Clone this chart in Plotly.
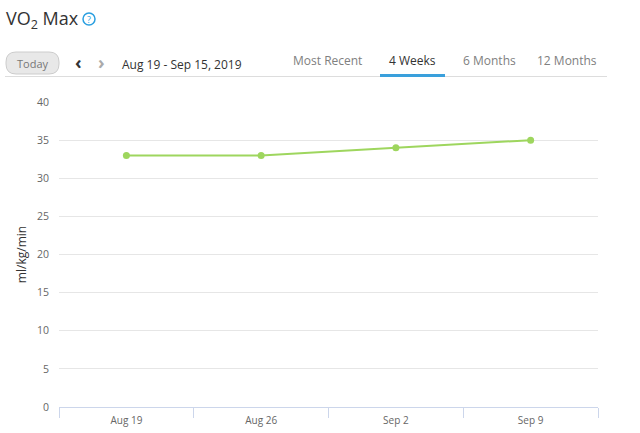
import plotly.graph_objects as go

categories = ["Aug 19", "Aug 26", "Sep 2", "Sep 9"]
vo2_values = [33, 33, 34, 35]
y_ticks = [0, 5, 10, 15, 20, 25, 30, 35, 40]
tabs = ["Most Recent", "4 Weeks", "6 Months", "12 Months"]
tab_centers = [327, 412, 489, 567]
date_range = "Aug 19 - Sep 15, 2019"

W, H = 640, 433
L, R, T, B = 59, 598, 102, 407

def px(x):
    return (x - L) / (R - L)

def py(y):
    return (B - y) / (B - T)

FONT = "Open Sans, Noto Sans, sans-serif"

fig = go.Figure()
fig.add_trace(go.Scatter(
    x=categories, y=vo2_values, mode="lines+markers",
    line=dict(color="#9ed65e", width=2),
    marker=dict(color="#9ed65e", size=7),
    hoverinfo="skip", showlegend=False,
))

shapes = []
annotations = []

# title
annotations.append(dict(x=px(4), y=py(19), xref="paper", yref="paper", xanchor="left", yanchor="middle",
                        text="VO<sub>2</sub> Max", showarrow=False, font=dict(family=FONT, size=18, color="#333333")))
# help icon
shapes.append(dict(type="circle", xref="paper", yref="paper", x0=px(83), x1=px(95), y0=py(25), y1=py(13),
                   line=dict(color="#2a9fe0", width=1.5), fillcolor="white"))
annotations.append(dict(x=px(89), y=py(19), xref="paper", yref="paper", xanchor="center", yanchor="middle",
                        text="?", showarrow=False, font=dict(family=FONT, size=9, color="#2a9fe0")))

# Today button (rounded rect)
x0, x1, y0, y1, r = 6, 59, 52, 74, 10
def P(x, y):
    return f"{px(x)},{py(y)}"
path = (f"M {P(x0+r, y0)} L {P(x1-r, y0)} Q {P(x1, y0)} {P(x1, y0+r)} L {P(x1, y1-r)} Q {P(x1, y1)} {P(x1-r, y1)} "
        f"L {P(x0+r, y1)} Q {P(x0, y1)} {P(x0, y1-r)} L {P(x0, y0+r)} Q {P(x0, y0)} {P(x0+r, y0)} Z")
shapes.append(dict(type="path", xref="paper", yref="paper", path=path, fillcolor="#e8e8e8",
                   line=dict(color="#cccccc", width=1)))
annotations.append(dict(x=px(32.5), y=py(63), xref="paper", yref="paper", xanchor="center", yanchor="middle",
                        text="Today", showarrow=False, font=dict(family=FONT, size=11, color="#777777")))
# arrows
annotations.append(dict(x=px(78), y=py(62), xref="paper", yref="paper", xanchor="center", yanchor="middle",
                        text="<b>‹</b>", showarrow=False, font=dict(family=FONT, size=18, color="#333333")))
annotations.append(dict(x=px(101), y=py(62), xref="paper", yref="paper", xanchor="center", yanchor="middle",
                        text="<b>›</b>", showarrow=False, font=dict(family=FONT, size=18, color="#aaaaaa")))
annotations.append(dict(x=px(120), y=py(64), xref="paper", yref="paper", xanchor="left", yanchor="middle",
                        text=date_range, showarrow=False, font=dict(family=FONT, size=12, color="#333333")))
# tabs
for t, c in zip(tabs, tab_centers):
    annotations.append(dict(x=px(c), y=py(61), xref="paper", yref="paper", xanchor="center", yanchor="middle",
                            text=t, showarrow=False,
                            font=dict(family=FONT, size=12, color="#333333" if t == "4 Weeks" else "#808080")))
shapes.append(dict(type="line", xref="paper", yref="paper", x0=px(5), x1=px(607), y0=py(76.5), y1=py(76.5),
                   line=dict(color="#dddddd", width=1)))
shapes.append(dict(type="line", xref="paper", yref="paper", x0=px(380), x1=px(445), y0=py(75.5), y1=py(75.5),
                   line=dict(color="#3aa0dc", width=3)))

fig.update_layout(
    width=W, height=H,
    margin=dict(l=L, r=W - R, t=T, b=H - B, pad=0, autoexpand=False),
    paper_bgcolor="white", plot_bgcolor="white",
    font=dict(family=FONT, size=11, color="#666666"),
    shapes=shapes, annotations=annotations,
    xaxis=dict(
        type="category", range=[-0.5, 3.5], tickson="boundaries", automargin=False,
        ticks="outside", ticklen=10, tickcolor="#ccd6eb", tickwidth=1,
        showline=True, linecolor="#ccd6eb", linewidth=1,
        showgrid=False, zeroline=False, fixedrange=True,
        tickfont=dict(family=FONT, size=10, color="#666666"),
        ticklabelstandoff=4,
    ),
    yaxis=dict(
        range=[0, 40], tickvals=y_ticks, showgrid=True, gridcolor="#e6e6e6", gridwidth=1,
        zeroline=False, showline=False, ticks="", fixedrange=True, automargin=False,
        tickfont=dict(family=FONT, size=10.5, color="#666666"),
        ticklabelstandoff=9,
        title=dict(text="ml/kg/min", font=dict(family=FONT, size=12, color="#333333"), standoff=7),
    ),
)

fig.write_html("out.html", config={"displayModeBar": False})

with open("out.html", "r", encoding="utf-8") as f:
    html = f.read()
html = html.replace("<body>", '<body style="margin:0;padding:0;overflow:hidden">', 1)
with open("out.html", "w", encoding="utf-8") as f:
    f.write(html)
